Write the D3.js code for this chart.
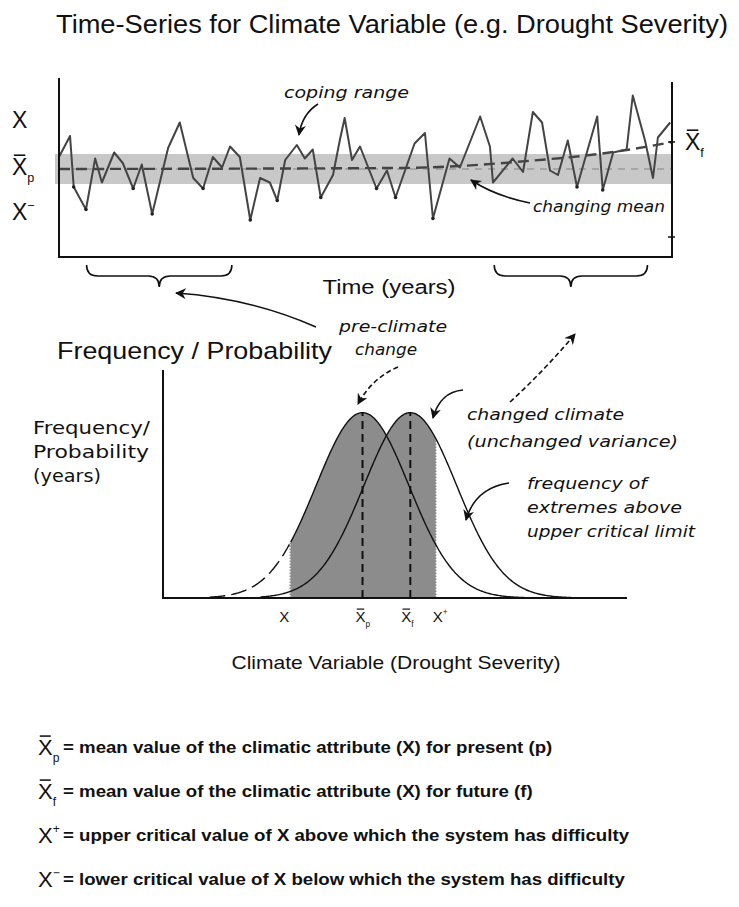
<!DOCTYPE html>
<html><head><meta charset="utf-8">
<script src="https://cdn.jsdelivr.net/npm/d3@7"></script>
<style>
html,body{margin:0;padding:0;background:#fff;}
svg{display:block;}
text{font-family:"Liberation Sans",Arial,sans-serif;fill:#111;}
.it{font-family:"DejaVu Sans",Verdana,sans-serif;font-style:italic;}
.dv{font-family:"DejaVu Sans",Verdana,sans-serif;}
</style></head>
<body>
<script>
// ---------- data ----------
const tsYears = [0,1.8,2.4,4.4,5.9,7.0,9.0,10.4,12.1,13.5,15.2,17.8,19.7,21.9,23.5,25.1,26.6,27.9,29.5,31.2,32.8,34.4,35.6,36.9,38.8,40.1,41.4,42.7,44.7,45.8,46.6,47.8,49.1,51.8,53.5,54.9,58.0,59.7,61.0,63.7,65.4,68.7,70.3,70.8,74.0,75.7,77.3,78.8,80.1,81.4,83.0,84.5,86.6,87.8,88.7,90.4,92.6,93.6,95.6,96.9,97.7,99.7];
const tsValues = [0.8,2.2,-1.2,-2.7,0.7,-0.9,1.1,0.4,-1.3,0.3,-3.0,1.4,3.1,-0.6,-1.3,0.8,0.1,1.5,0.8,-3.4,-0.6,-0.9,-2.1,0.6,1.6,0.7,1.3,-1.9,-0.4,1.9,3.4,0.6,1.5,-1.3,-0.1,-1.9,1.7,2.4,-3.3,0.7,0.1,3.5,1.5,-0.9,0.7,-0.2,3.8,3.1,-0.1,-0.4,1.9,-1.2,1.8,3.5,-1.4,1.1,1.3,4.9,1.9,-0.6,2.1,3.1];
const meanYears = [0,55.6,65.4,76.3,86.6,93.6,100];
const meanValues = [0,0.07,0.2,0.53,0.93,1.33,1.8];
const copingRange = [-1, 1];          // X- .. X+ in the time-series panel
const presentMean = 43, futureMean = 53.3, sdClimate = 10;
const criticalLow = 27.4, criticalHigh = 58.8;
const distTicks = [
  {v:27.4, sub:"", bar:false, off:-6},
  {v:43,   sub:"p", bar:true, off:-2},
  {v:53.3, sub:"f", bar:true, off:-4},
  {v:58.8, sup:"+", bar:false, off:2}
];
const legendRows = [
  {sub:"p", bar:true, text:"= mean value of the climatic attribute (X) for present (p)"},
  {sub:"f", bar:true, text:"= mean value of the climatic attribute (X) for future (f)"},
  {sup:"+", text:"= upper critical value of X above which the system has difficulty"},
  {sup:"\u2212", text:"= lower critical value of X below which the system has difficulty"}
];

// ---------- svg ----------
const W = 739, H = 907;
const svg = d3.select("body").append("svg").attr("width", W).attr("height", H);
svg.append("rect").attr("width", W).attr("height", H).attr("fill", "#fff");
const defs = svg.append("defs");
defs.append("marker").attr("id","ah").attr("viewBox","0 0 10 10").attr("refX",9).attr("refY",5)
  .attr("markerWidth",11).attr("markerHeight",11).attr("orient","auto-start-reverse")
  .attr("markerUnits","userSpaceOnUse")
  .append("path").attr("d","M0,0 L10,5 L0,10 L3,5 Z").attr("fill","#111");

function label(x, y, s, size, opt){
  opt = opt || {};
  const t = svg.append("text").attr("x",x).attr("y",y).attr("font-size",size).text(s);
  if (opt.cls) t.attr("class", opt.cls);
  if (opt.anchor) t.attr("text-anchor", opt.anchor);
  if (opt.weight) t.attr("font-weight", opt.weight);
  if (opt.width) t.attr("textLength", opt.width).attr("lengthAdjust","spacingAndGlyphs");
  return t;
}
function arrow(d, dashed){
  const p = svg.append("path").attr("d",d).attr("fill","none").attr("stroke","#111")
    .attr("stroke-width",1.6).attr("marker-end","url(#ah)");
  if (dashed) p.attr("stroke-dasharray","5,3");
  return p;
}

// title
label(56, 33, "Time-Series for Climate Variable (e.g. Drought Severity)", 25, {width:672});

// ---------- time series panel ----------
const tx = d3.scaleLinear().domain([0,100]).range([59,672]);
const ty = d3.scaleLinear().domain([-6,6]).range([259,79]);
const topG = svg.append("g");

topG.append("rect").attr("x",55).attr("width",672-55)
  .attr("y",ty(copingRange[1])).attr("height",ty(copingRange[0])-ty(copingRange[1]))
  .attr("fill","#c8c8c8");

topG.append("line").attr("x1",tx(0)).attr("x2",tx(100)).attr("y1",ty(0)).attr("y2",ty(0))
  .attr("stroke","#9a9a9a").attr("stroke-width",1.3).attr("stroke-dasharray","7,6");

const tsData = tsYears.map((y,i)=>[y,tsValues[i]]);
const line = d3.line().x(d=>tx(d[0])).y(d=>ty(d[1]));
topG.append("path").datum(tsData)
  .attr("d", line).attr("fill","none").attr("stroke","#444").attr("stroke-width",2)
  .attr("stroke-linejoin","round");
topG.selectAll("circle.m").data(tsData.filter(d=>d[1]<=-1.2))
  .join("circle").attr("cx",d=>tx(d[0])).attr("cy",d=>ty(d[1])).attr("r",1.8).attr("fill","#222");

const meanLine = d3.line().x(d=>tx(d[0])).y(d=>ty(d[1])).curve(d3.curveMonotoneX);
topG.append("path").datum(meanYears.map((y,i)=>[y,meanValues[i]]))
  .attr("d", meanLine).attr("fill","none").attr("stroke","#444").attr("stroke-width",2.4)
  .attr("stroke-dasharray","11,6");

topG.append("line").attr("x1",tx(0)).attr("x2",tx(0)).attr("y1",78).attr("y2",258).attr("stroke","#111").attr("stroke-width",2);
topG.append("line").attr("x1",tx(0)).attr("x2",tx(100)).attr("y1",257).attr("y2",257).attr("stroke","#111").attr("stroke-width",2);
topG.append("line").attr("x1",tx(100)).attr("x2",tx(100)).attr("y1",82).attr("y2",258).attr("stroke","#111").attr("stroke-width",2);
const lastMean = meanValues[meanValues.length-1];
topG.append("line").attr("x1",tx(100)-4).attr("x2",tx(100)+3).attr("y1",ty(lastMean)).attr("y2",ty(lastMean)).attr("stroke","#111").attr("stroke-width",1.5);
topG.append("line").attr("x1",tx(100)-4).attr("x2",tx(100)+3).attr("y1",237).attr("y2",237).attr("stroke","#111").attr("stroke-width",1.5);

function sym(g, x, y, size, o){
  const t = g.append("text").attr("x",x).attr("y",y).attr("font-size",size);
  t.append("tspan").text("X");
  if (o.sub) t.append("tspan").attr("font-size",size*0.55).attr("dy",size*0.32).text(o.sub);
  if (o.sup) t.append("tspan").attr("font-size",size*0.55).attr("dy",-size*0.45).text(o.sup);
  if (o.bar) g.append("line").attr("x1",x+size*0.08).attr("x2",x+size*0.58)
      .attr("y1",y-size*0.86).attr("y2",y-size*0.86).attr("stroke","#111").attr("stroke-width",Math.max(1.2,size*0.07));
  return t;
}
sym(svg, 12, 128, 23, {});
sym(svg, 12, ty(0)+6, 23, {sub:"p", bar:true});
sym(svg, 12, 220, 23, {sup:"\u2212"});
sym(svg, 685, ty(lastMean)+8, 23, {sub:"f", bar:true});

// annotations in top panel
label(284, 98, "coping range", 16, {cls:"it", width:125});
arrow("M318,104 Q302,114 299,135");
label(533, 212, "changing mean", 16, {cls:"it", width:132});
arrow("M530,203 Q495,196 471,180");

label(389, 294, "Time (years)", 20, {anchor:"middle", width:133});

function brace(x1,x2,y0,h){
  const m=(x1+x2)/2;
  return `M${x1},${y0} Q${x1},${y0+h} ${x1+h},${y0+h} L${m-h},${y0+h} Q${m},${y0+h} ${m},${y0+2*h} Q${m},${y0+h} ${m+h},${y0+h} L${x2-h},${y0+h} Q${x2},${y0+h} ${x2},${y0}`;
}
svg.append("path").attr("d",brace(tx(4.5),tx(28.2),265,11)).attr("fill","none").attr("stroke","#111").attr("stroke-width",1.6);
svg.append("path").attr("d",brace(tx(71),tx(96),265,11)).attr("fill","none").attr("stroke","#111").attr("stroke-width",1.6);

label(57, 359, "Frequency / Probability", 24, {width:275});
label(339, 332, "pre-climate", 15, {cls:"it", width:108});
label(355, 355, "change", 15, {cls:"it", width:62});
arrow("M316,327 Q250,298 176,293");
arrow("M510,402 Q545,370 575,334", true);
arrow("M398,367 Q372,378 358,404", true);

// ---------- distribution panel ----------
const dx = d3.scaleLinear().domain([0,100]).range([163,627]);
const dy = d3.scaleLinear().domain([0,1.23]).range([598,370]);
const gauss = (x,m)=>Math.exp(-((x-m)*(x-m))/(2*sdClimate*sdClimate));
const xs = d3.range(0,100.01,0.25);
const botG = svg.append("g");

const area = d3.area().x(d=>dx(d)).y0(dy(0)).y1(d=>dy(Math.max(gauss(d,presentMean),gauss(d,futureMean))));
botG.append("path").datum(xs.filter(d=>d>=criticalLow && d<=criticalHigh)).attr("d",area).attr("fill","#8c8c8c");
[criticalLow,criticalHigh].forEach(v=>{
  botG.append("line").attr("x1",dx(v)).attr("x2",dx(v)).attr("y1",dy(0)).attr("y2",dy(Math.max(gauss(v,presentMean),gauss(v,futureMean))))
    .attr("stroke","#666").attr("stroke-width",1).attr("stroke-dasharray","1.5,1.5");
});
const cl = d3.line().x(d=>dx(d[0])).y(d=>dy(d[1]));
botG.append("path").datum(xs.filter(d=>d>=10 && d<=criticalLow).map(d=>[d,gauss(d,presentMean)]))
  .attr("d",cl).attr("fill","none").attr("stroke","#111").attr("stroke-width",1.4).attr("stroke-dasharray","16,6");
botG.append("path").datum(xs.filter(d=>d>=criticalLow && d<=78).map(d=>[d,gauss(d,presentMean)])).attr("d",cl).attr("fill","none").attr("stroke","#111").attr("stroke-width",1.4);
botG.append("path").datum(xs.filter(d=>d>=21 && d<=88).map(d=>[d,gauss(d,futureMean)])).attr("d",cl).attr("fill","none").attr("stroke","#111").attr("stroke-width",1.4);
[presentMean,futureMean].forEach(v=>{
  botG.append("line").attr("x1",dx(v)).attr("x2",dx(v)).attr("y1",dy(0)).attr("y2",dy(1))
    .attr("stroke","#111").attr("stroke-width",2).attr("stroke-dasharray","8,5");
});
botG.append("line").attr("x1",dx(0)).attr("x2",dx(0)).attr("y1",370).attr("y2",dy(0)+1).attr("stroke","#111").attr("stroke-width",2);
botG.append("line").attr("x1",dx(0)).attr("x2",dx(100)).attr("y1",dy(0)).attr("y2",dy(0)).attr("stroke","#111").attr("stroke-width",2.2);

distTicks.forEach(t=>{ sym(botG, dx(t.v)+t.off-5, 622, 15, t); });

label(33, 434, "Frequency/", 18, {cls:"dv", width:117});
label(33, 458, "Probability", 18, {cls:"dv", width:116});
label(33, 482, "(years)", 18, {cls:"dv", width:68});
label(396, 669, "Climate Variable (Drought Severity)", 19, {anchor:"middle", width:329});

label(467, 420, "changed climate", 16, {cls:"it", width:157});
label(467, 447, "(unchanged variance)", 16, {cls:"it", width:211});
arrow("M463,390 Q440,392 433,418");
label(527, 489, "frequency of", 16, {cls:"it", width:120});
label(527, 513, "extremes above", 16, {cls:"it", width:155});
label(527, 537, "upper critical limit", 16, {cls:"it", width:168});
arrow("M509,483 Q475,488 466,520");

// ---------- legend ----------
const legTexts = [];
legendRows.forEach((r,i)=>{
  const y = 753 + i*44;
  sym(svg, 38, y+2, 22, r);
  legTexts.push(label(63, y, r.text, 16.5, {weight:"bold"}).attr("fill","#222"));
});
const natural = legTexts.map(t=>t.node().getComputedTextLength());
const k = 566 / d3.max(natural);
legTexts.forEach((t,i)=>t.attr("textLength", natural[i]*k).attr("lengthAdjust","spacingAndGlyphs"));
</script>
</body></html>
